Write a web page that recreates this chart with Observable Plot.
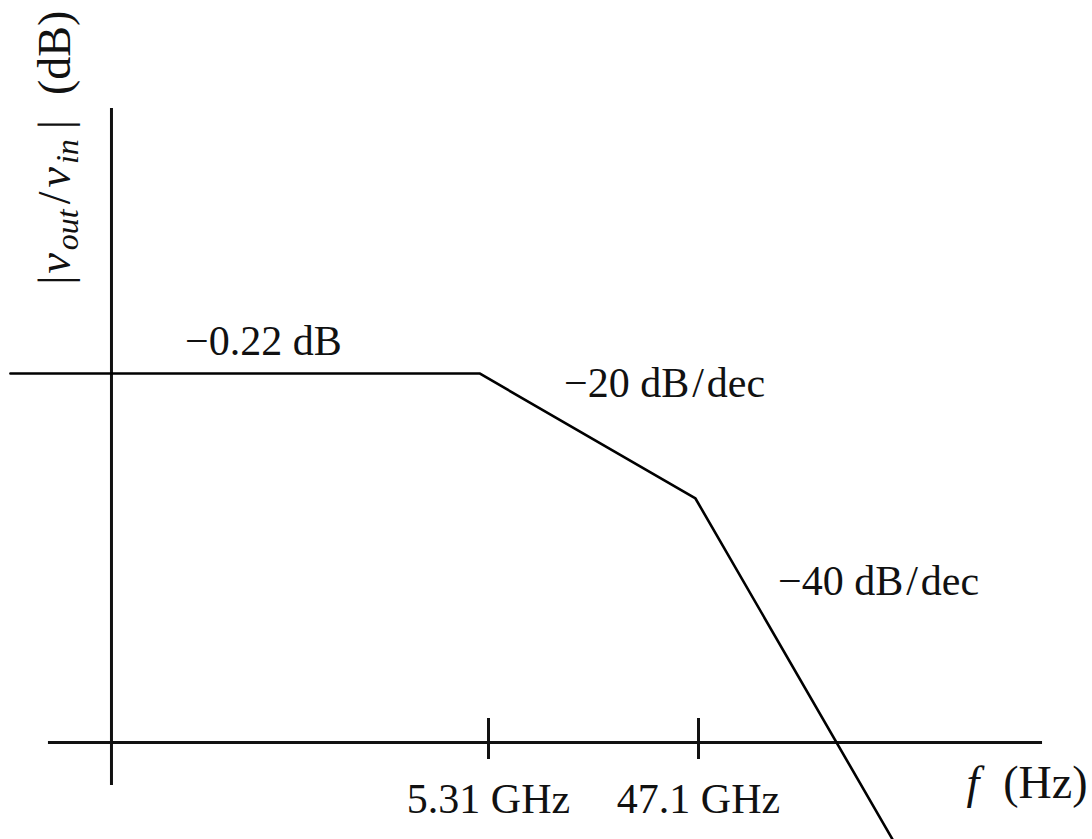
<!DOCTYPE html>
<html>
<head>
<meta charset="utf-8">
<script src="https://cdn.jsdelivr.net/npm/d3@7"></script>
<script src="https://cdn.jsdelivr.net/npm/@observablehq/plot@0.6"></script>
<style>
  html, body { margin: 0; padding: 0; background: #fff; }
  svg { display: block; }
</style>
</head>
<body>
<div id="chart"></div>
<script>
// Asymptotic Bode magnitude plot
const freqHz = [3.69e7, 4.84e9, 4.565e10, 3.54e11];
const gainDb = [-0.22, -0.22, -19.72, -72.9];

const tickFreqHz = [5.31e9, 47.1e9];
const tickLabels = ["5.31 GHz", "47.1 GHz"];

const noteTexts = ["−0.22 dB", "−20 dB/dec", "−40 dB/dec"];
const noteFreqHz = [5.12e8, 3.31e10, 3.06e11];
const noteDb = [2.74, -3.96, -34.85];

const xDomain = [3.329e7, 2.829e12];
const yDomain = [-72.92, 57.97];

// axis lines (data units)
const axisBaseDb = -57.79;
const axisOriginHz = 1.055e8;
const hAxisSpanHz = [5.48e7, 1.683e12];
const vAxisSpanDb = [41.12, -64.49];
const tickSpanDb = [-54.04, -60.44];
const tickLabelDb = -68.71;

const xLabel = "f (Hz)";
const xLabelHz = 2.685e12;
const xLabelDb = -66.52;
const yLabel = "|vout/vin| (dB)";
const yLabelHz = 6.89e7;
const yLabelDb = 35.0;

const FONT = "'Liberation Serif', 'Times New Roman', serif";
const FS = 42;

const curve = freqHz.map((f, i) => ({f, db: gainDb[i]}));
const ticks = tickFreqHz.map((f, i) => ({f, label: tickLabels[i]}));
const notes = noteTexts.map((t, i) => ({t, f: noteFreqHz[i], db: noteDb[i]}));

const svg = Plot.plot({
  width: 1092,
  height: 839,
  margin: 0,
  style: {background: "#fff", color: "#000", fontFamily: FONT},
  x: {type: "log", domain: xDomain, range: [0, 1092], axis: null},
  y: {type: "linear", domain: yDomain, range: [839, 0], axis: null},
  marks: [
    Plot.ruleY([axisBaseDb], {x1: hAxisSpanHz[0], x2: hAxisSpanHz[1], stroke: "#111", strokeWidth: 3}),
    Plot.ruleX([axisOriginHz], {y1: vAxisSpanDb[0], y2: vAxisSpanDb[1], stroke: "#111", strokeWidth: 3}),
    Plot.ruleX(ticks, {x: "f", y1: tickSpanDb[0], y2: tickSpanDb[1], stroke: "#111", strokeWidth: 3}),
    Plot.line(curve, {x: "f", y: "db", stroke: "#000", strokeWidth: 2.6, strokeLinejoin: "miter"}),
    Plot.text(ticks, {x: "f", y: tickLabelDb, text: "label", fontSize: FS, fontFamily: FONT, lineAnchor: "bottom", textAnchor: "middle", fill: "#111"}),
    Plot.text(notes, {x: "f", y: "db", text: "t", fontSize: FS, fontFamily: FONT, lineAnchor: "bottom", textAnchor: "middle", fill: "#111", className: "notes"}),
    Plot.text([xLabel], {x: xLabelHz, y: xLabelDb, text: d => d, fontSize: 46, fontFamily: FONT, lineAnchor: "bottom", textAnchor: "end", fill: "#111", className: "xlab"}),
    Plot.text([yLabel], {x: yLabelHz, y: yLabelDb, text: d => d, rotate: -90, fontSize: 46, fontFamily: FONT, lineAnchor: "bottom", textAnchor: "middle", fill: "#111", className: "ylab"})
  ]
});

// rich formatting: italic variables, subscripts, math spacing
const sv = d3.select(svg);
sv.selectAll(".ylab text").each(function() {
  const t = d3.select(this);
  t.text(null);
  const parts = [
    {s: "|"},
    {s: "v", it: true, dx: 2},
    {s: "out", it: true, sub: true, dx: 3},
    {s: "/", up: true, dx: 5},
    {s: "v", it: true, dx: 4},
    {s: "in", it: true, sub: true, dx: 3},
    {s: "|", up: true, dx: 10},
    {s: "(dB)", dx: 25}
  ];
  parts.forEach(p => {
    const ts = t.append("tspan").text(p.s);
    if (p.it) ts.attr("font-style", "italic");
    if (p.sub) ts.attr("font-size", 32).attr("dy", 8);
    if (p.up) ts.attr("dy", -8);
    if (p.dx) ts.attr("dx", p.dx);
  });
});
sv.selectAll(".xlab text").each(function() {
  const t = d3.select(this);
  t.text(null);
  t.append("tspan").attr("font-style", "italic").text("f");
  t.append("tspan").attr("dx", 24).text("(Hz)");
});
// slash in slope labels gets a little math spacing
sv.selectAll(".notes text").each(function() {
  const t = d3.select(this);
  const s = t.text();
  const k = s.indexOf("/");
  if (k < 0) return;
  t.text(null);
  t.append("tspan").text(s.slice(0, k));
  t.append("tspan").attr("dx", 3).text("/");
  t.append("tspan").attr("dx", 3).text(s.slice(k + 1));
});

document.getElementById("chart").appendChild(svg);
</script>
</body>
</html>
